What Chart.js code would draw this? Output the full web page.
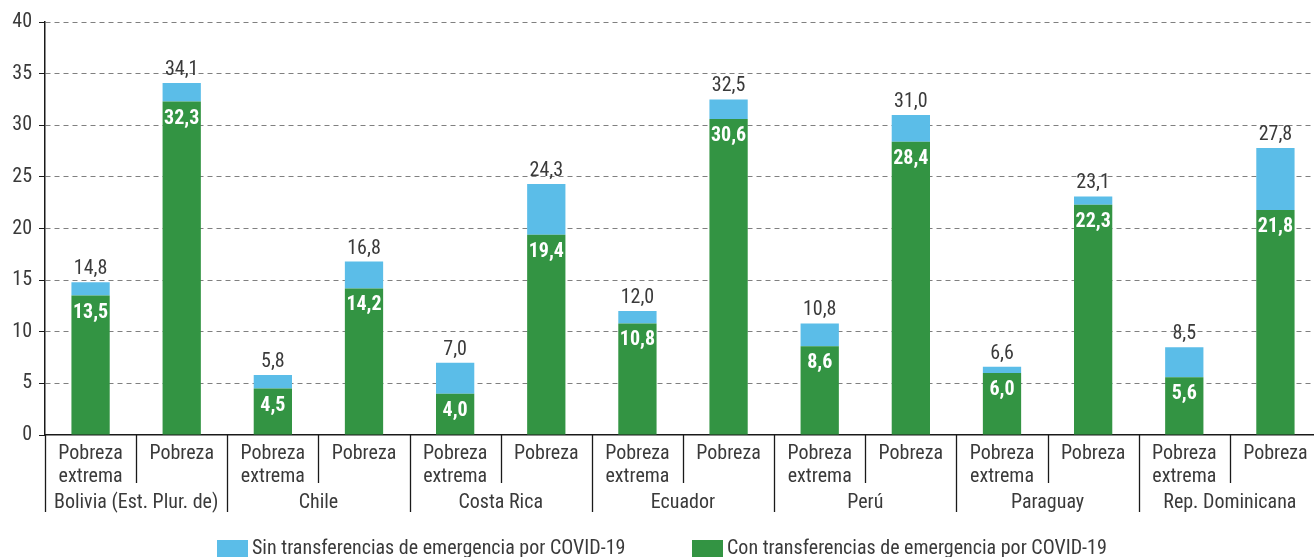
<!DOCTYPE html>
<html><head><meta charset="utf-8">
<script src="https://cdn.jsdelivr.net/npm/chart.js@4.4.1/dist/chart.umd.min.js"></script>
<style>html,body{margin:0;padding:0;background:#fff;overflow:hidden;width:1314px;height:557px}#wrap{width:1321px;height:557px;position:relative}</style>
</head><body><div id="wrap"><canvas id="c"></canvas></div>
<script>
const countries = ["Bolivia (Est. Plur. de)", "Chile", "Costa Rica", "Ecuador", "Perú", "Paraguay", "Rep. Dominicana"];
const subLabels = [["Pobreza", "extrema"], ["Pobreza"]];
const conTransferencias = [13.5, 32.3, 4.5, 14.2, 4.0, 19.4, 10.8, 30.6, 8.6, 28.4, 6.0, 22.3, 5.6, 21.8];
const sinTransferencias = [14.8, 34.1, 5.8, 16.8, 7.0, 24.3, 12.0, 32.5, 10.8, 31.0, 6.6, 23.1, 8.5, 27.8];
const yTicks = [0, 5, 10, 15, 20, 25, 30, 35, 40];
const seriesNames = ["Con transferencias de emergencia por COVID-19", "Sin transferencias de emergencia por COVID-19"];

const FONT = "'Roboto Condensed', 'Liberation Sans Narrow', 'Arial Narrow', Roboto, sans-serif";
const TXT = '#3a3a3a';
const GREEN = '#339443';
const BLUE = '#5bbde8';

const labels = [];
countries.forEach(() => subLabels.forEach(s => labels.push(s)));
const diff = sinTransferencias.map((v, i) => Math.round((v - conTransferencias[i]) * 10) / 10);
const fmt = v => v.toFixed(1).replace('.', ',');

Chart.defaults.font.family = FONT;
Chart.defaults.color = TXT;

const extras = {
  id: 'extras',
  afterDatasetsDraw(chart) {
    const ctx = chart.ctx;
    const g = chart.getDatasetMeta(0).data;
    const b = chart.getDatasetMeta(1).data;
    ctx.save();
    ctx.textAlign = 'center';
    for (let i = 0; i < g.length; i++) {
      ctx.fillStyle = '#ffffff';
      ctx.font = "bold 20px " + FONT;
      ctx.textBaseline = 'middle';
      ctx.fillText(fmt(conTransferencias[i]), g[i].x, g[i].y + 17);
      ctx.fillStyle = TXT;
      ctx.font = "20px " + FONT;
      ctx.textBaseline = 'alphabetic';
      ctx.fillText(fmt(sinTransferencias[i]), b[i].x, b[i].y - 8);
    }
    ctx.restore();
  },
  afterDraw(chart) {
    const ctx = chart.ctx;
    const x = chart.scales.x;
    const bottom = chart.chartArea.bottom;
    const step = x.getPixelForValue(1) - x.getPixelForValue(0);
    ctx.save();
    ctx.strokeStyle = '#1a1a1a';
    ctx.lineWidth = 1.3;
    for (let i = 0; i < labels.length; i++) {
      const xb = Math.round(x.getPixelForValue(i) - step / 2) + 0.5;
      ctx.beginPath();
      ctx.moveTo(xb, bottom);
      ctx.lineTo(xb, i % 2 === 0 ? bottom + 77 : bottom + 48);
      ctx.stroke();
    }
    ctx.fillStyle = TXT;
    ctx.font = "20px " + FONT;
    ctx.textAlign = 'center';
    ctx.textBaseline = 'middle';
    countries.forEach((c, k) => {
      const cx = (x.getPixelForValue(2 * k) + x.getPixelForValue(2 * k + 1)) / 2;
      ctx.fillText(c, cx, bottom + 68);
    });
    // legend (order as in reference: Sin first, then Con)
    const items = [
      { text: seriesNames[1], color: BLUE, x: 217 },
      { text: seriesNames[0], color: GREEN, x: 692 }
    ];
    ctx.font = "20px " + FONT;
    ctx.textAlign = 'left';
    const boxW = 31, boxH = 18, boxGap = 4;
    const ly = 549;
    items.forEach(it => {
      ctx.fillStyle = it.color;
      ctx.fillRect(it.x, ly - boxH / 2, boxW, boxH);
      ctx.fillStyle = TXT;
      ctx.fillText(it.text, it.x + boxW + boxGap, ly);
    });
    ctx.restore();
  }
};

new Chart(document.getElementById('c'), {
  type: 'bar',
  data: {
    labels: labels,
    datasets: [
      { label: seriesNames[0], data: conTransferencias, backgroundColor: GREEN, borderWidth: 0, barPercentage: 0.42, categoryPercentage: 1 },
      { label: seriesNames[1], data: diff, backgroundColor: BLUE, borderWidth: 0, barPercentage: 0.42, categoryPercentage: 1 }
    ]
  },
  options: {
    responsive: true,
    maintainAspectRatio: false,
    animation: false,
    events: [],
    layout: { padding: { top: 22, right: 0, bottom: 0, left: 0 } },
    plugins: {
      tooltip: { enabled: false },
      legend: { display: false }
    },
    scales: {
      x: {
        stacked: true,
        grid: { display: false, drawTicks: false },
        border: { display: true, color: '#1a1a1a', width: 1.5 },
        ticks: { color: TXT, padding: 8, maxRotation: 0, autoSkip: false, font: { size: 20, family: FONT, lineHeight: 1.12 } },
        afterFit: s => { s.height = 122; }
      },
      y: {
        stacked: true,
        min: 0, max: 40,
        afterBuildTicks: s => { s.ticks = yTicks.map(v => ({ value: v })); },
        grid: {
          color: ctx => (ctx.tick && ctx.tick.value === 0) ? 'rgba(0,0,0,0)' : '#808080',
          tickColor: '#1a1a1a', tickLength: 6, lineWidth: 1
        },
        border: { display: true, color: '#1a1a1a', width: 1.5, dash: [5, 4] },
        ticks: { color: TXT, padding: 7, font: { size: 20, family: FONT } },
        afterFit: s => { s.width = 45; }
      }
    }
  },
  plugins: [extras]
});
</script>
</body></html>
